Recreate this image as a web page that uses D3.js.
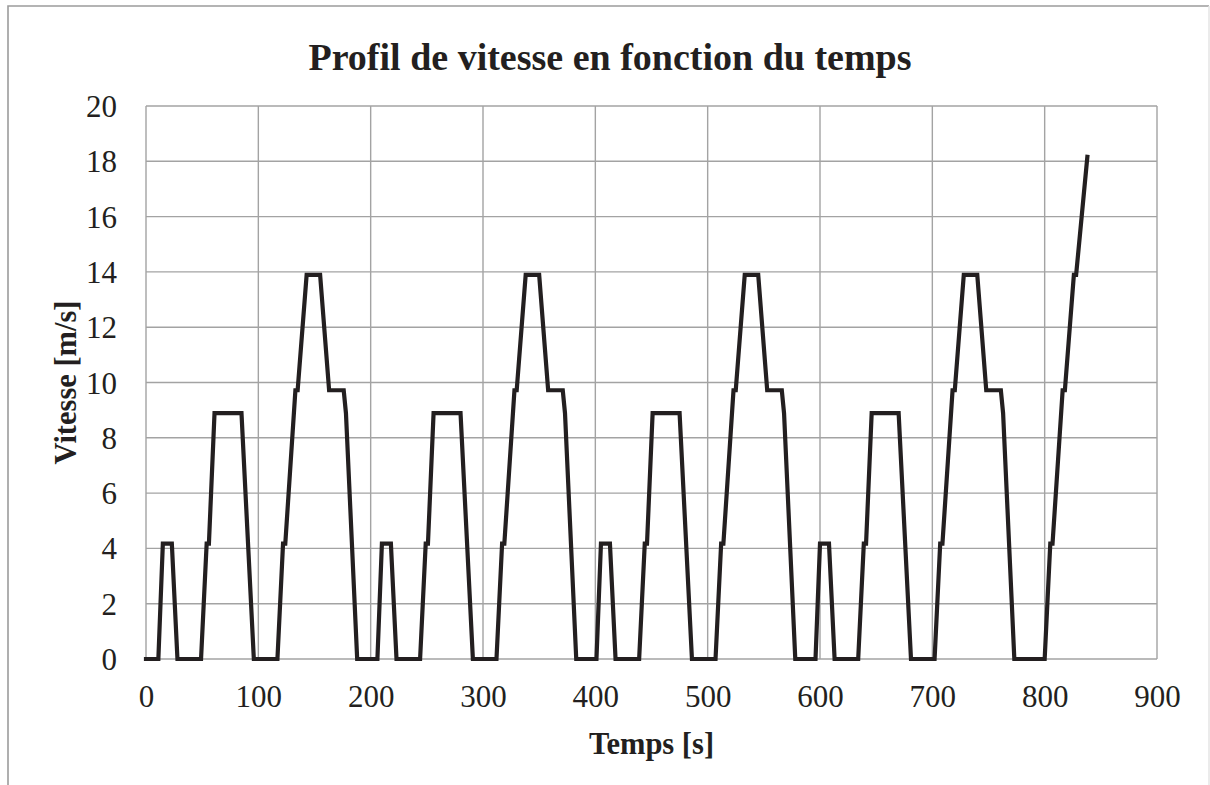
<!DOCTYPE html>
<html>
<head>
<meta charset="utf-8">
<script src="https://cdn.jsdelivr.net/npm/d3@7"></script>
<style>
  html, body { margin: 0; padding: 0; background: #fff; }
  svg { display: block; }
  text { font-family: "Liberation Serif", "Times New Roman", serif; fill: #231f20; }
</style>
</head>
<body>
<svg id="chart" width="1210" height="785"></svg>
<script>
// ---- Data: time [s] and speed [m/s] breakpoints of the profile ----
const timeValues = [
  0, 11, 15, 23, 28, 49, 54, 56, 61, 85, 96, 117, 122, 124, 133, 135, 143, 155, 163, 176, 178, 188,
  195, 206, 210, 218, 223, 244, 249, 251, 256, 280, 291, 312, 317, 319, 328, 330, 338, 350, 358, 371, 373, 383,
  390, 401, 405, 413, 418, 439, 444, 446, 451, 475, 486, 507, 512, 514, 523, 525, 533, 545, 553, 566, 568, 578,
  585, 596, 600, 608, 613, 634, 639, 641, 646, 670, 681, 702, 707, 709, 718, 720, 728, 740, 748, 761, 763, 773,
  780, 800, 805, 807, 816, 818, 826, 828, 838
];
const speedValues = [
  0, 0, 4.17, 4.17, 0, 0, 4.17, 4.17, 8.89, 8.89, 0, 0, 4.17, 4.17, 9.72, 9.72, 13.89, 13.89, 9.72, 9.72, 8.89, 0,
  0, 0, 4.17, 4.17, 0, 0, 4.17, 4.17, 8.89, 8.89, 0, 0, 4.17, 4.17, 9.72, 9.72, 13.89, 13.89, 9.72, 9.72, 8.89, 0,
  0, 0, 4.17, 4.17, 0, 0, 4.17, 4.17, 8.89, 8.89, 0, 0, 4.17, 4.17, 9.72, 9.72, 13.89, 13.89, 9.72, 9.72, 8.89, 0,
  0, 0, 4.17, 4.17, 0, 0, 4.17, 4.17, 8.89, 8.89, 0, 0, 4.17, 4.17, 9.72, 9.72, 13.89, 13.89, 9.72, 9.72, 8.89, 0,
  0, 0, 4.17, 4.17, 9.72, 9.72, 13.89, 13.89, 18.16
];
const xTicks = [0, 100, 200, 300, 400, 500, 600, 700, 800, 900];
const yTicks = [0, 2, 4, 6, 8, 10, 12, 14, 16, 18, 20];
const chartTitle = "Profil de vitesse en fonction du temps";
const xTitle = "Temps [s]";
const yTitle = "Vitesse [m/s]";

// ---- Layout ----
const plot = { left: 146, right: 1157, top: 106, bottom: 659 };
const svg = d3.select("#chart");

// outer frame
svg.append("path")
  .attr("d", `M8,790 L8,6 L1209,6`)
  .attr("fill", "none").attr("stroke", "#9c9c9c").attr("stroke-width", 1.6);
svg.append("line")
  .attr("x1", 1209).attr("x2", 1209).attr("y1", 6).attr("y2", 790)
  .attr("stroke", "#e4e4e4").attr("stroke-width", 1.5);

const x = d3.scaleLinear().domain([0, 900]).range([plot.left, plot.right]);
const y = d3.scaleLinear().domain([0, 20]).range([plot.bottom, plot.top]);

// gridlines
const grid = svg.append("g");
grid.selectAll("line.v").data(xTicks).join("line")
  .attr("x1", d => x(d)).attr("x2", d => x(d))
  .attr("y1", plot.top).attr("y2", plot.bottom)
  .attr("stroke", "#a3a3a3").attr("stroke-width", 1.4);
grid.selectAll("line.h").data(yTicks).join("line")
  .attr("x1", plot.left).attr("x2", plot.right)
  .attr("y1", d => y(d)).attr("y2", d => y(d))
  .attr("stroke", "#a3a3a3").attr("stroke-width", 1.4);

// axes (labels only)
const xAxis = d3.axisBottom(x).tickValues(xTicks).tickSize(0).tickPadding(0).tickFormat(d3.format("d"));
const gx = svg.append("g").attr("transform", `translate(0,${plot.bottom})`).call(xAxis);
gx.select(".domain").remove();
gx.selectAll("text").attr("font-size", 31).attr("dy", null).attr("y", 48)
  .style("font-family", '"Liberation Serif", serif').attr("fill", "#231f20");

const yAxis = d3.axisLeft(y).tickValues(yTicks).tickSize(0).tickPadding(0).tickFormat(d3.format("d"));
const gy = svg.append("g").attr("transform", `translate(${plot.left},0)`).call(yAxis);
gy.select(".domain").remove();
gy.selectAll("text").attr("font-size", 31).attr("x", -29).attr("dy", "0.34em")
  .style("font-family", '"Liberation Serif", serif').attr("fill", "#231f20");

// data line
const data = timeValues.map((t, i) => ({ t, v: speedValues[i] }));
const line = d3.line().x(d => x(d.t)).y(d => y(d.v));
svg.append("path").datum(data)
  .attr("d", line)
  .attr("fill", "none").attr("stroke", "#231f20").attr("stroke-width", 4.2)
  .attr("stroke-linejoin", "miter").attr("stroke-linecap", "square");

// titles
svg.append("text").attr("x", 610).attr("y", 70).attr("text-anchor", "middle")
  .attr("font-size", 38).attr("font-weight", "bold").text(chartTitle);
svg.append("text").attr("x", (plot.left + plot.right) / 2).attr("y", 754).attr("text-anchor", "middle")
  .attr("font-size", 30.5).attr("font-weight", "bold").text(xTitle);
svg.append("text").attr("transform", `translate(76,${(plot.top + plot.bottom) / 2}) rotate(-90)`)
  .attr("text-anchor", "middle").attr("font-size", 30.5).attr("font-weight", "bold").text(yTitle);
</script>
</body>
</html>
